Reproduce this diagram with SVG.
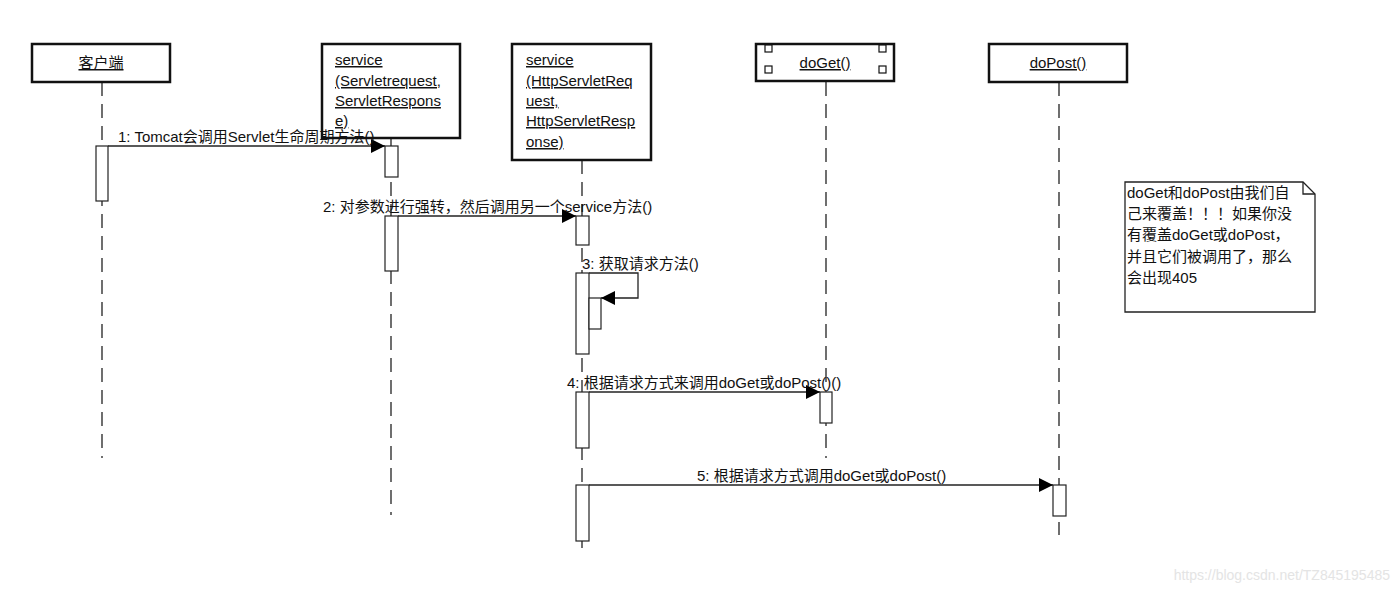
<svg xmlns="http://www.w3.org/2000/svg" width="1400" height="593" viewBox="0 0 1400 593">
<style>
text{font-family:"Liberation Sans","Noto Sans CJK SC",sans-serif;font-size:15px;fill:#111}
.hd{text-decoration:underline}
.box{fill:#fff;stroke:#111;stroke-width:2.5}
.life{stroke:#222;stroke-width:1.3;stroke-dasharray:14 8;fill:none}
.act{fill:#fff;stroke:#222;stroke-width:1.2}
.msg{stroke:#222;stroke-width:1.3;fill:none}
.sq{fill:#fff;stroke:#111;stroke-width:1.2}
</style>
<defs>
<marker id="ah" markerWidth="14" markerHeight="14" refX="14" refY="7" orient="auto" markerUnits="userSpaceOnUse">
<path d="M0,0 L14,7 L0,14 Z" fill="#000"/>
</marker>
</defs>
<rect width="1400" height="593" fill="#fff"/>

<g id="connectors">
<line class="life" x1="102" y1="82" x2="102" y2="458"/>
<line class="life" x1="391" y1="138" x2="391" y2="515"/>
<line class="life" x1="582" y1="160" x2="582" y2="555"/>
<line class="life" x1="826" y1="82" x2="826" y2="458"/>
<line class="life" x1="1059" y1="82" x2="1059" y2="535"/>
<line class="msg" x1="108" y1="146" x2="385" y2="146" marker-end="url(#ah)"/>
<line class="msg" x1="398" y1="216" x2="576" y2="216" marker-end="url(#ah)"/>
<polyline class="msg" points="589,273 638,273 638,298 601,298" marker-end="url(#ah)"/>
<line class="msg" x1="589" y1="392" x2="820" y2="392" marker-end="url(#ah)"/>
<line class="msg" x1="589" y1="485" x2="1053" y2="485" marker-end="url(#ah)"/>
</g>

<g id="client">
<rect class="box" x="32" y="44" width="138" height="38"/>
<text class="hd" x="101" y="68" text-anchor="middle">客户端</text>
<rect class="act" x="96" y="146" width="12" height="55"/>
</g>

<g id="service1">
<rect class="box" x="322" y="44" width="138" height="94"/>
<text class="hd" x="335" y="65">service</text>
<text class="hd" x="335" y="86">(Servletrequest,</text>
<text class="hd" x="335" y="106">ServletRespons</text>
<text class="hd" x="335" y="126">e)</text>
<rect class="act" x="385" y="146" width="13" height="31"/>
<rect class="act" x="385" y="216" width="13" height="55"/>
</g>

<g id="service2">
<rect class="box" x="512" y="44" width="139" height="116"/>
<text class="hd" x="526" y="65">service</text>
<text class="hd" x="526" y="86">(HttpServletReq</text>
<text class="hd" x="526" y="106">uest,</text>
<text class="hd" x="526" y="126">HttpServletResp</text>
<text class="hd" x="526" y="147">onse)</text>
<rect class="act" x="576" y="216" width="13" height="29"/>
<rect class="act" x="576" y="273" width="13" height="81"/>
<rect class="act" x="589" y="298" width="12" height="31"/>
<rect class="act" x="576" y="392" width="13" height="56"/>
<rect class="act" x="576" y="485" width="13" height="56"/>
</g>

<g id="doGet">
<rect class="box" x="756" y="44" width="138" height="37"/>
<rect class="sq" x="765" y="45" width="7" height="7"/>
<rect class="sq" x="765" y="66" width="7" height="7"/>
<rect class="sq" x="879" y="45" width="7" height="7"/>
<rect class="sq" x="879" y="66" width="7" height="7"/>
<text class="hd" x="825" y="68" text-anchor="middle">doGet()</text>
<rect class="act" x="820" y="392" width="12" height="31"/>
</g>

<g id="doPost">
<rect class="box" x="989" y="44" width="138" height="38"/>
<text class="hd" x="1058" y="68" text-anchor="middle">doPost()</text>
<rect class="act" x="1053" y="485" width="13" height="31"/>
</g>

<g id="labels">
<text x="118" y="142">1: Tomcat会调用Servlet生命周期方法()</text>
<text x="323" y="212">2: 对参数进行强转，然后调用另一个service方法()</text>
<text x="582" y="269">3: 获取请求方法()</text>
<text x="567" y="388">4: 根据请求方式来调用doGet或doPost()()</text>
<text x="697" y="481">5: 根据请求方式调用doGet或doPost()</text>
</g>

<g id="note">
<path d="M1125,182 L1303,182 L1315,194 L1315,312 L1125,312 Z" fill="#fff" stroke="#222" stroke-width="1.3"/>
<path d="M1303,182 L1303,194 L1315,194" fill="none" stroke="#222" stroke-width="1.3"/>
<text x="1127" y="198">doGet和doPost由我们自</text>
<text x="1127" y="219">己来覆盖！！！如果你没</text>
<text x="1127" y="240">有覆盖doGet或doPost，</text>
<text x="1127" y="262">并且它们被调用了，那么</text>
<text x="1127" y="283">会出现405</text>
</g>

<text x="1390" y="580" text-anchor="end" style="font-size:14px;fill:#e4e4e4">https://blog.csdn.net/TZ845195485</text>
</svg>
